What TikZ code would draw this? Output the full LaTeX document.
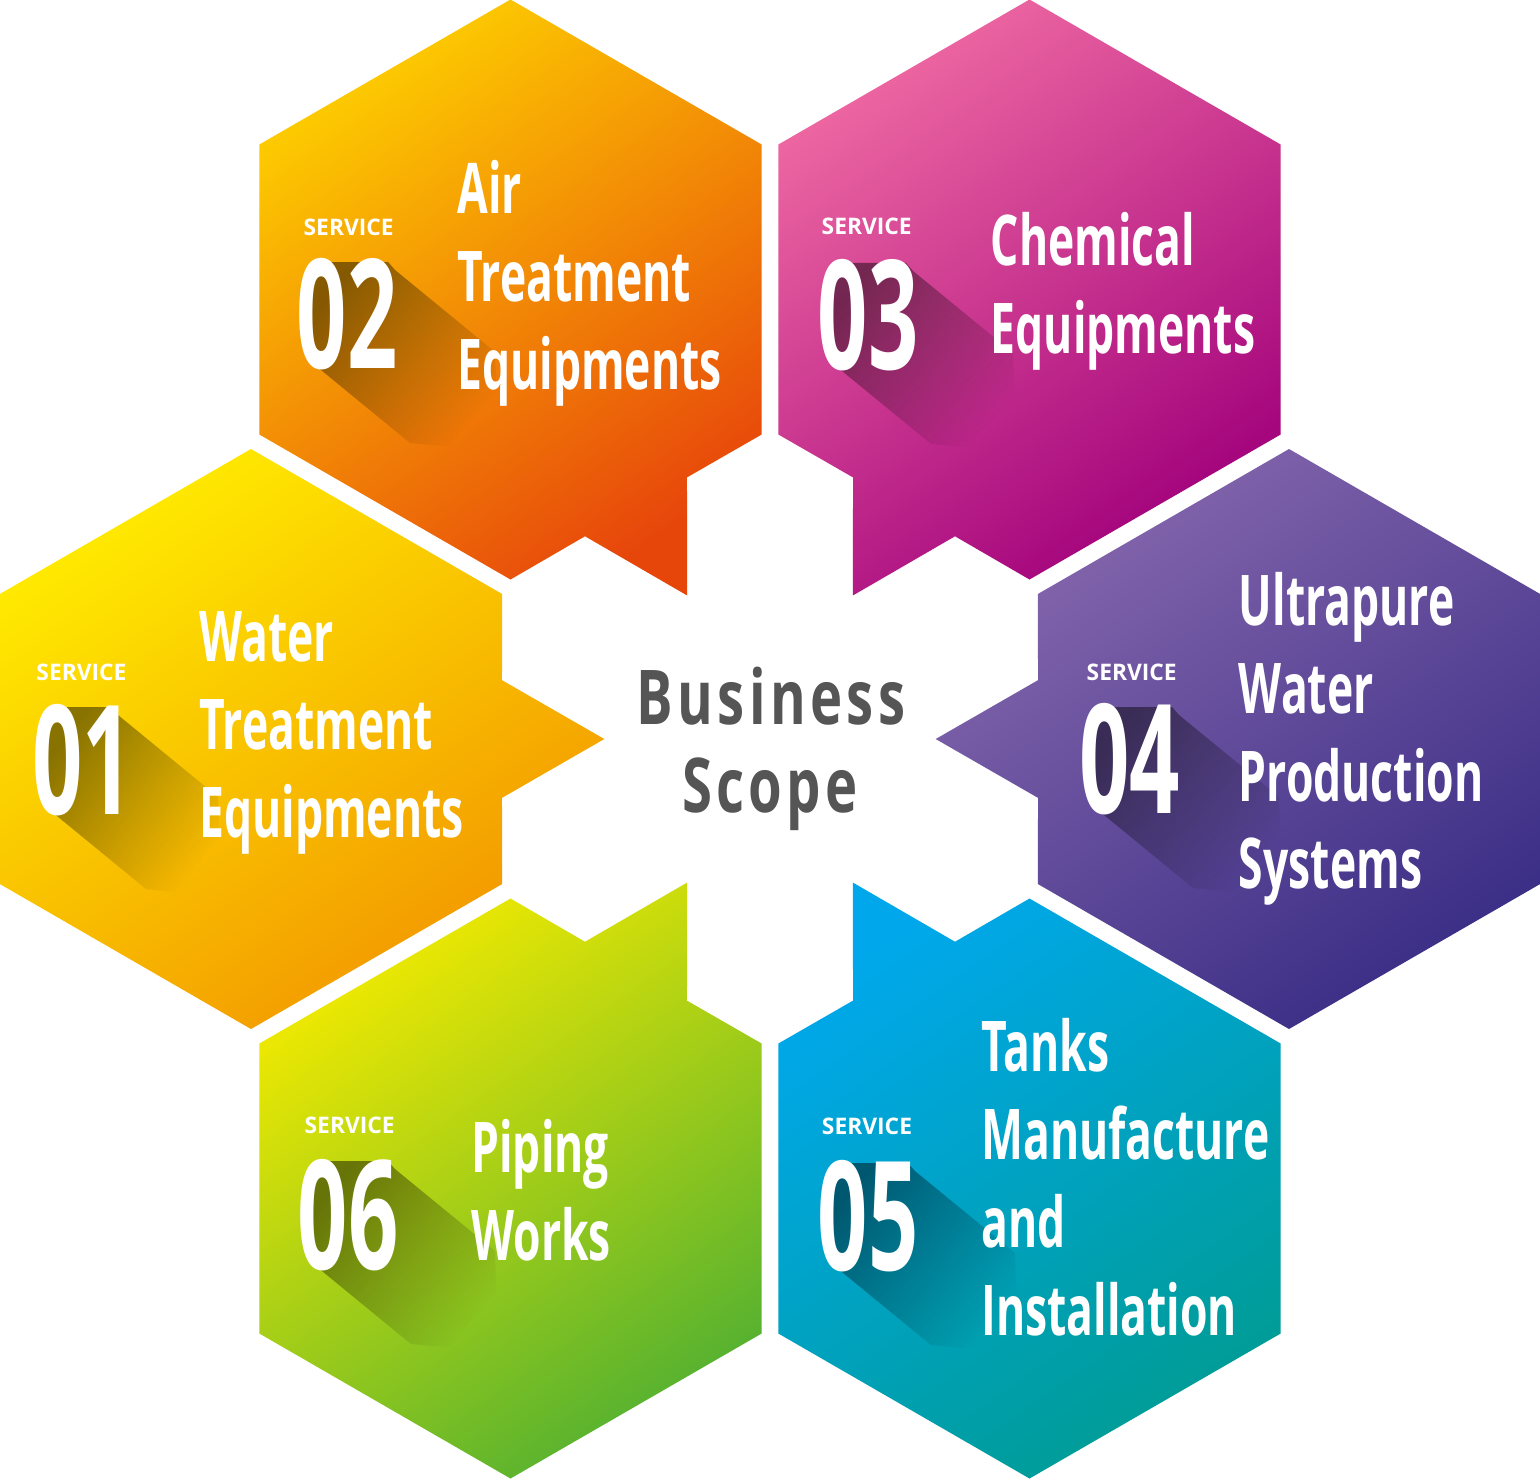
\documentclass[tikz,border=0pt]{standalone}
\usepackage{fontspec}
\setmainfont{Open Sans}
\usetikzlibrary{fadings}
\definecolor{hAa}{HTML}{FFEA00}\definecolor{hAb}{HTML}{F29400}
\definecolor{hBa}{HTML}{FDCD00}\definecolor{hBb}{HTML}{E7460B}
\definecolor{hCa}{HTML}{EE68A2}\definecolor{hCb}{HTML}{A1007B}
\definecolor{hDa}{HTML}{8768AE}\definecolor{hDb}{HTML}{3B2E86}
\definecolor{hEa}{HTML}{00A8EB}\definecolor{hEb}{HTML}{009C96}
\definecolor{hFa}{HTML}{F2EA00}\definecolor{hFb}{HTML}{55B130}
\definecolor{bsgray}{HTML}{555555}
\tikzfading[name=longshadow, left color=transparent!0, middle color=transparent!55, right color=transparent!100]
\newcommand\hexfill[4]{\shade[#4, shift={(#1,#2)}] ({#3-90}:290) -- ({#3-30}:290) -- ({#3-13.2}:257.8) -- ({#3}:353.3) -- ({#3+13.2}:257.8) -- ({#3+30}:290) -- ({#3+90}:290) -- ({#3+150}:290) -- ({#3+210}:290) -- cycle;}
% long shadow behind a number: box left, top, right, bottom
\newcommand\numshadow[4]{\fill[numshade] (#1+14,#2) -- (#3-10,#2) -- (#3-3,#2+8) -- (#3+97,#2+90) -- (#3+100,#4+82) -- (#1+106,#4-8+82) -- (#1+6,#4-8) -- (#1,#4-22) -- (#1,#2+20) -- cycle;}
\newcommand\bignum[1]{\scalebox{0.58}[1]{\fontsize{76}{76}\selectfont\bfseries #1}}
\newcommand\lbltxt[1]{\scalebox{0.635}[1]{\fontsize{35}{35}\selectfont\bfseries #1}}
\tikzset{
  hexA/.style={top color=hAa, bottom color=hAb, shading angle=35},
  hexB/.style={top color=hBa, bottom color=hBb, shading angle=35},
  hexC/.style={top color=hCa, bottom color=hCb, shading angle=35},
  hexD/.style={top color=hDa, bottom color=hDb, shading angle=35},
  hexE/.style={top color=hEa, bottom color=hEb, shading angle=35},
  hexF/.style={top color=hFa, bottom color=hFb, shading angle=35},
  numshade/.style={black, opacity=0.46, path fading=longshadow, fading angle=-40},
  svc/.style={anchor=base, inner sep=0pt, text=white, font=\fontsize{11.4}{12}\selectfont\bfseries},
  num/.style={anchor=base west, inner sep=0pt, text=white},
  lbl/.style={anchor=base west, inner sep=0pt, text=white},
  bs/.style={anchor=base, inner sep=0pt, text=bsgray, font=\fontsize{37.8}{38}\selectfont\bfseries},
}
\begin{document}
\begin{tikzpicture}[x=0.5pt,y=-0.5pt]
\fill[white] (0,0) rectangle (1540,1479);
\useasboundingbox (0,0) rectangle (1540,1479);
% hexagons
\hexfill{251}{739}{0}{hexA}
\hexfill{510.5}{289.5}{60}{hexB}
\hexfill{1029.5}{289.5}{120}{hexC}
\hexfill{1289}{739}{180}{hexD}
\hexfill{1029.5}{1188.5}{240}{hexE}
\hexfill{510.5}{1188.5}{300}{hexF}
% long shadows
\numshadow{40}{707}{121}{815}
\numshadow{304}{262}{398}{369}
\numshadow{825}{263}{916}{370}
\numshadow{1087}{707}{1182}{814}
\numshadow{825}{1163}{918}{1271}
\numshadow{305}{1161}{398}{1270}
% service labels
\node[svc] (s1) at (81.5,680) {SERVICE};
\node[svc] (s2) at (348.7,235.4) {SERVICE};
\node[svc] (s3) at (866.7,234.3) {SERVICE};
\node[svc] (s4) at (1131.7,680) {SERVICE};
\node[svc] (s5) at (867,1134) {SERVICE};
\node[svc] (s6) at (349.7,1133.3) {SERVICE};
% numbers
\node[num] (n1) at (31.7,814) {\bignum{01}};
\node[num] (n2) at (296.4,368) {\bignum{02}};
\node[num] (n3) at (817.4,369) {\bignum{03}};
\node[num] (n4) at (1078.7,813) {\bignum{04}};
\node[num] (n5) at (817.4,1270.5) {\bignum{05}};
\node[num] (n6) at (297.4,1269) {\bignum{06}};
% titles
\node[lbl] (t1a) at (199,661) {\lbltxt{Water}};
\node[lbl] (t1b) at (199,749) {\lbltxt{Treatment}};
\node[lbl] (t1c) at (199,837) {\lbltxt{Equipments}};
\node[lbl] (t2a) at (457,213) {\lbltxt{Air}};
\node[lbl] (t2b) at (457,301.5) {\lbltxt{Treatment}};
\node[lbl] (t2c) at (457,389) {\lbltxt{Equipments}};
\node[lbl] (t3a) at (990.5,265) {\lbltxt{Chemical}};
\node[lbl] (t3b) at (990.5,353) {\lbltxt{Equipments}};
\node[lbl] (t4a) at (1238.5,625.5) {\lbltxt{Ultrapure}};
\node[lbl] (t4b) at (1238.5,713) {\lbltxt{Water}};
\node[lbl] (t4c) at (1238.5,801) {\lbltxt{Production}};
\node[lbl] (t4d) at (1238.5,888.5) {\lbltxt{Systems}};
\node[lbl] (t5a) at (981,1071) {\lbltxt{Tanks}};
\node[lbl] (t5b) at (981,1159) {\lbltxt{Manufacture}};
\node[lbl] (t5c) at (981,1247.5) {\lbltxt{and}};
\node[lbl] (t5d) at (981,1335) {\lbltxt{Installation}};
\node[lbl] (t6a) at (471,1172) {\lbltxt{Piping}};
\node[lbl] (t6b) at (471,1260) {\lbltxt{Works}};
% center
\node[bs] (bs1) at (771,724) {\scalebox{0.72}[1]{\addfontfeature{LetterSpace=8}Business}};
\node[bs] (bs2) at (770,812) {\scalebox{0.72}[1]{\addfontfeature{LetterSpace=8}Scope}};
\end{tikzpicture}
\end{document}
